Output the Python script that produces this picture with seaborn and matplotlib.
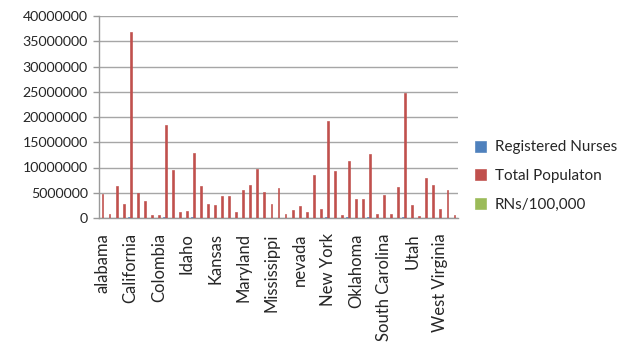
import pandas as pd
import matplotlib.pyplot as plt
import seaborn as sns
from matplotlib.ticker import MultipleLocator, FixedLocator

sns.set_style("white")
plt.rcParams['font.family'] = ['Lato', 'DejaVu Sans']

# @@ data
states = ["alabama", "alaska", "arizona", "arkansas", "California", "Colorado",
          "Connecticut", "Delaware", "Colombia", "Florida", "Georgia", "Hawaii",
          "Idaho", "Illinois", "Indiana", "Iowa", "Kansas", "Kentucky", "Louisiana",
          "Maine", "Maryland", "Massachusetts", "Michigan", "Minnesota", "Mississippi",
          "Missouri", "Montana", "Nebraska", "nevada", "New Hampshire", "New Jersey",
          "New Mexico", "New York", "North Carolina", "North Dakota", "Ohio",
          "Oklahoma", "Oregon", "Pennsylvania", "Rhode Island", "South Carolina",
          "South Dakota", "Tennessee", "Texas", "Utah", "Vermont", "Virginia",
          "Washington", "West Virginia", "Wisconsin", "Wyoming"]
total_population = [4750000, 700000, 6300000, 2700000, 36900000, 4950000,
                    3300000, 660000, 500000, 18500000, 9500000, 1200000,
                    1450000, 12800000, 6350000, 2850000, 2600000, 4400000, 4400000,
                    1200000, 5600000, 6500000, 9700000, 5200000, 2700000,
                    5950000, 800000, 1500000, 2400000, 1200000, 8600000,
                    1850000, 19200000, 9250000, 500000, 11300000,
                    3770000, 3770000, 12600000, 850000, 4560000,
                    700000, 6150000, 24700000, 2600000, 400000, 7900000,
                    6600000, 1700000, 5600000, 500000]
registered_nurses = [43000, 5500, 41000, 22000, 240000, 43000,
                     38000, 9000, 9500, 160000, 74000, 10000,
                     10500, 115000, 58000, 32000, 26000, 41000, 40000,
                     14000, 52000, 80000, 88000, 60000, 27000,
                     58000, 8500, 19000, 17000, 13500, 81000,
                     14000, 175000, 85000, 7500, 118000,
                     27000, 32000, 138000, 12500, 38000,
                     10000, 60000, 165000, 18000, 6300, 62000,
                     53000, 18000, 54000, 4500]
rns_per_100k = [900, 790, 650, 815, 650, 870, 1150, 1360, 1900, 865, 780, 830,
                725, 900, 915, 1120, 1000, 930, 910, 1165, 930, 1230, 905, 1150, 1000,
                975, 1065, 1270, 710, 1125, 940, 755, 910, 920, 1500, 1045, 715,
                850, 1095, 1470, 835, 1430, 975, 670, 690, 1575, 785, 805, 1060, 965, 900]
series_names = ["Registered Nurses", "Total Populaton", "RNs/100,000"]
series_colors = ["#4F81BD", "#C0504D", "#9BBB59"]
# @@

df = pd.DataFrame({
    "state": states * 3,
    "value": registered_nurses + total_population + rns_per_100k,
    "series": [series_names[0]] * len(states) + [series_names[1]] * len(states)
              + [series_names[2]] * len(states),
})

fig = plt.figure(figsize=(6.27, 3.54), dpi=100)
ax = fig.add_axes([99 / 627, 1 - 218 / 354, (458 - 99) / 627, (218 - 16) / 354])

sns.barplot(data=df, x="state", y="value", hue="series", order=states,
            hue_order=series_names, palette=series_colors, width=0.8,
            saturation=1, ax=ax)

# thin bars vanish when antialiased -> give them an edge of their own colour
for p in ax.patches:
    p.set_edgecolor(p.get_facecolor())
    p.set_linewidth(0.45)
    p.set_zorder(3)

ax.set_xlim(-0.5, len(states) - 0.5)
ax.set_ylim(0, 40000000)
ax.yaxis.set_major_locator(MultipleLocator(5000000))
ax.yaxis.set_major_formatter(plt.FuncFormatter(lambda v, p: "%d" % v))
ax.grid(axis="y", color="#a6a6a6", linewidth=1, zorder=1)
ax.set_axisbelow(True)
ax.set_xlabel("")
ax.set_ylabel("")

for side in ["top", "right"]:
    ax.spines[side].set_visible(False)
for side in ["left", "bottom"]:
    ax.spines[side].set_color("#9a9a9a")
    ax.spines[side].set_linewidth(1)

ax.set_xticks(range(0, len(states), 4))
ax.set_xticklabels(states[::4], rotation=90, fontsize=12)
ax.xaxis.set_minor_locator(FixedLocator([i - 0.5 for i in range(len(states) + 1)]))
ax.tick_params(axis="x", which="major", length=0, pad=11)
ax.tick_params(axis="x", which="minor", length=4, color="#9a9a9a", width=1)
ax.tick_params(axis="y", length=4, color="#9a9a9a", width=1, left=True, labelsize=10.2, pad=4)

handles, labels = ax.get_legend_handles_labels()
ax.legend(handles, labels, loc="center left", bbox_to_anchor=(461 / 627, 1 - 176 / 354),
          bbox_transform=fig.transFigure, frameon=False, fontsize=11,
          handlelength=0.75, handleheight=0.75, handletextpad=0.55, labelspacing=0.95)

fig.savefig("out.png", dpi=100)
